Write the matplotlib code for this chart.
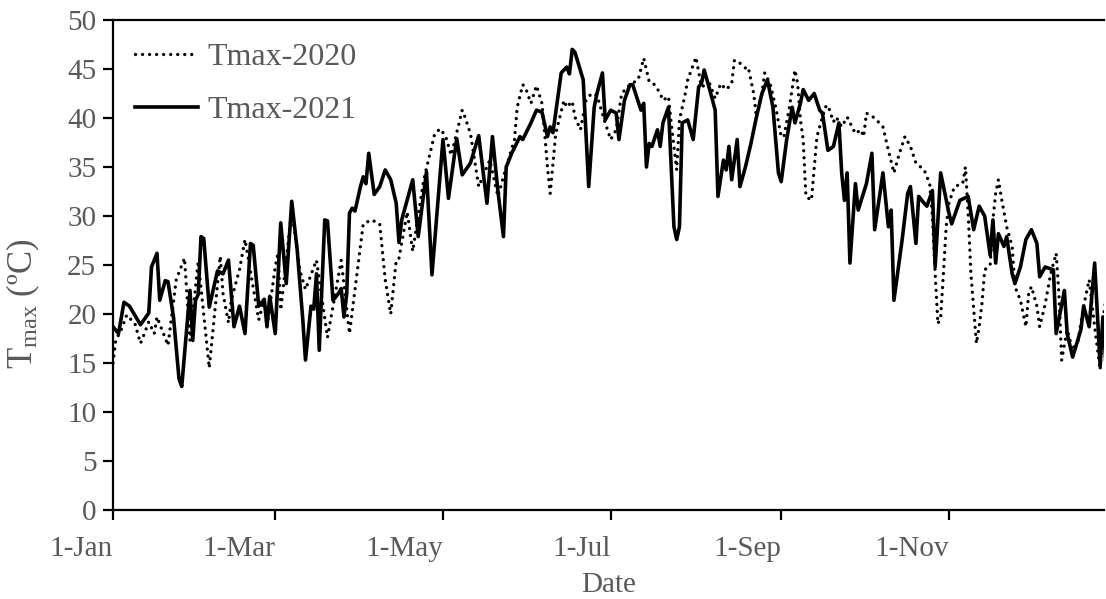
import matplotlib
matplotlib.use("Agg")
import matplotlib.pyplot as plt

# ---- data (day of year index, Tmax in degC) ----
days_2021 = [0, 2, 4, 6, 10, 13, 14, 16, 17, 19, 20, 22, 24, 25, 28, 29, 30, 31, 32, 33,
             35, 38, 40, 42, 44, 46, 48, 50, 51, 53, 55, 56, 57, 59, 61, 63, 65, 67, 69, 70,
             72, 73, 74, 75, 77, 78, 80, 82, 83, 84, 85, 86, 87, 88, 90, 91, 92, 93, 95, 97,
             99, 101, 103, 104, 105, 109, 111, 114, 116, 120, 122, 125, 127, 130, 133, 136, 138, 140, 142, 143,
             145, 148, 149, 152, 154, 156, 158, 159, 160, 163, 165, 166, 167, 168, 171, 173, 175, 176, 178, 179,
             181, 183, 184, 186, 188, 189, 192, 193, 194, 195, 196, 198, 199, 200, 202, 204, 205, 206, 207, 209,
             211, 213, 214, 215, 217, 219, 220, 222, 223, 224, 225, 227, 228, 230, 232, 234, 236, 238, 240, 242,
             243, 245, 247, 248, 250, 251, 253, 255, 257, 258, 260, 262, 264, 265, 266, 267, 268, 270, 271, 274,
             276, 277, 280, 282, 283, 284, 287, 289, 290, 292, 293, 295, 296, 298, 299, 301, 304, 305, 308, 311,
             313, 315, 317, 319, 320, 321, 322, 324, 325, 327, 328, 330, 332, 334, 336, 337, 339, 342, 343, 346,
             347, 349, 352, 353, 355, 357, 359, 360, 361]
tmax_2021 = [18.7, 18.0, 21.2, 20.8, 18.9, 20.1, 24.8, 26.2, 21.4, 23.4, 23.3, 19.7, 13.4, 12.6, 22.4, 17.3, 21.4, 22.0, 27.9, 27.7,
             20.7, 24.4, 24.1, 25.5, 18.7, 20.8, 18.0, 27.2, 27.0, 20.8, 21.5, 18.7, 21.8, 18.0, 29.3, 23.1, 31.5, 26.5, 19.5, 15.3,
             20.8, 20.5, 24.1, 16.3, 29.6, 29.5, 21.4, 22.1, 22.6, 19.7, 22.1, 30.3, 30.8, 30.5, 33.0, 34.0, 33.3, 36.4, 32.2, 33.0,
             34.7, 33.7, 31.3, 27.3, 29.6, 33.7, 27.9, 34.5, 24.0, 37.8, 31.8, 37.9, 34.2, 35.4, 38.2, 31.3, 38.1, 32.5, 27.9, 35.0,
             36.4, 38.1, 37.8, 39.5, 40.8, 40.6, 38.1, 39.1, 38.5, 44.6, 45.2, 44.5, 47.0, 46.7, 43.9, 33.0, 41.1, 42.5, 44.6, 39.8,
             40.8, 40.5, 37.8, 41.8, 43.4, 43.4, 40.8, 41.5, 35.0, 37.4, 37.1, 38.8, 37.1, 39.5, 41.1, 28.9, 27.6, 28.9, 39.5, 39.8,
             37.8, 43.2, 43.5, 44.9, 42.9, 40.8, 32.0, 35.7, 34.7, 37.1, 33.7, 37.8, 33.0, 35.0, 37.4, 40.1, 42.5, 43.9, 41.1, 34.4,
             33.5, 37.8, 41.1, 39.5, 41.5, 42.9, 41.8, 42.5, 40.8, 40.5, 36.7, 37.1, 39.5, 34.4, 31.6, 34.4, 25.2, 33.3, 30.6, 33.3,
             36.4, 28.6, 34.4, 28.9, 30.6, 21.4, 27.6, 32.3, 33.0, 27.2, 32.0, 31.3, 31.0, 32.6, 24.8, 34.4, 30.3, 29.2, 31.6, 32.0,
             28.6, 31.0, 30.0, 26.0, 29.6, 25.2, 28.2, 26.9, 27.9, 24.1, 23.1, 24.8, 27.6, 28.6, 27.2, 23.8, 24.8, 24.5, 18.0, 22.4,
             18.0, 15.6, 18.4, 20.8, 18.7, 25.2, 14.7, 19.7, 15.3]

days_2020 = [0, 1, 3, 5, 8, 10, 11, 13, 15, 16, 20, 23, 26, 28, 31, 35, 39, 40, 42, 43,
             45, 46, 48, 53, 55, 56, 59, 60, 61, 64, 65, 68, 70, 74, 78, 83, 86, 91, 94, 97,
             99, 101, 103, 104, 107, 109, 113, 117, 119, 121, 123, 127, 128, 130, 133, 137, 140, 143, 146, 147,
             149, 150, 152, 154, 156, 157, 158, 159, 161, 164, 165, 167, 168, 170, 172, 174, 176, 179, 181, 183,
             185, 188, 191, 193, 195, 197, 199, 200, 202, 203, 205, 206, 208, 209, 211, 212, 214, 217, 219, 221,
             223, 225, 226, 228, 230, 231, 233, 234, 236, 237, 239, 241, 243, 244, 246, 248, 249, 250, 251, 252,
             254, 256, 259, 260, 262, 263, 265, 267, 270, 272, 273, 274, 277, 280, 282, 284, 286, 288, 290, 292,
             295, 297, 298, 299, 300, 301, 302, 303, 304, 306, 309, 310, 311, 312, 314, 315, 316, 317, 319, 320,
             321, 322, 323, 325, 327, 328, 330, 332, 333, 334, 336, 337, 339, 341, 343, 344, 345, 347, 349, 351,
             353, 355, 357, 359, 360, 361]
tmax_2020 = [15.0, 17.3, 18.4, 19.9, 19.0, 17.0, 17.7, 19.2, 18.0, 19.7, 16.8, 23.5, 25.7, 17.3, 25.4, 14.5, 25.9, 22.1, 19.1, 21.4,
             23.5, 24.5, 27.6, 19.4, 21.5, 18.7, 24.8, 26.2, 20.4, 28.0, 30.6, 24.4, 22.5, 25.5, 17.6, 25.5, 18.0, 29.2, 29.6, 29.2,
             23.5, 20.0, 25.5, 25.7, 30.4, 26.4, 33.7, 38.4, 38.9, 38.1, 36.2, 40.8, 40.1, 38.4, 33.0, 35.7, 32.0, 35.0, 37.8, 41.1,
             43.4, 43.1, 41.5, 43.3, 41.5, 38.4, 35.0, 32.3, 38.4, 41.8, 41.1, 41.7, 40.1, 38.8, 41.8, 42.5, 42.3, 39.5, 37.8, 38.8,
             42.5, 43.4, 43.9, 46.1, 43.7, 43.4, 42.5, 41.8, 42.2, 39.5, 34.7, 39.8, 42.3, 43.9, 45.4, 46.2, 43.2, 43.5, 42.0, 43.5,
             42.9, 43.5, 45.9, 45.6, 45.1, 45.2, 42.5, 40.1, 42.5, 44.6, 43.5, 41.1, 38.1, 38.1, 41.1, 44.9, 43.5, 39.8, 37.8, 32.0,
             31.6, 38.1, 41.1, 41.3, 39.6, 40.1, 39.1, 40.1, 38.4, 38.8, 38.1, 40.5, 40.0, 39.1, 36.7, 34.4, 36.4, 38.1, 37.1, 35.4,
             34.7, 33.3, 30.0, 24.1, 19.0, 19.7, 24.1, 28.9, 31.3, 33.0, 33.3, 35.0, 30.3, 24.1, 17.0, 18.7, 21.0, 24.5, 25.0, 29.6,
             32.3, 33.7, 32.0, 28.9, 26.9, 22.8, 21.4, 18.7, 22.1, 22.8, 20.8, 18.7, 21.0, 24.1, 26.2, 22.1, 15.3, 18.4, 16.3, 17.3,
             20.8, 23.5, 18.7, 14.3, 19.4, 21.4]

tick_days = [0, 59, 120, 181, 243, 304]
tick_labels = ["1-Jan", "1-Mar", "1-May", "1-Jul", "1-Sep", "1-Nov"]
y_ticks = list(range(0, 51, 5))

# ---- style ----
GRAY = "#595959"
plt.rcParams["font.family"] = ["Liberation Serif", "DejaVu Serif"]
plt.rcParams["mathtext.fontset"] = "custom"
plt.rcParams["mathtext.rm"] = "Liberation Serif"
plt.rcParams["mathtext.it"] = "Liberation Serif:italic"

fig = plt.figure(figsize=(11.06, 5.99), dpi=100)
ax = fig.add_axes([113 / 1106, 89 / 599, 991 / 1106, 490 / 599])

ax.plot(days_2020, tmax_2020, color="black", lw=2.4,
        linestyle=(0, (0.01, 2.1)), dash_capstyle="round", label="Tmax-2020")
ax.plot(days_2021, tmax_2021, color="black", lw=2.6, solid_joinstyle="round",
        label="Tmax-2021")

ax.set_xlim(0, 360.4)
ax.set_ylim(0, 50)
ax.set_yticks(y_ticks)
ax.set_xticks(tick_days)
ax.set_xticklabels(tick_labels, ha="right")

ax.spines["right"].set_visible(False)
for s in ["left", "bottom", "top"]:
    ax.spines[s].set_color("black")
    ax.spines[s].set_linewidth(1.6)

ax.tick_params(axis="both", direction="out", color="black", width=1.6, length=7,
               labelcolor=GRAY, labelsize=21)
ax.tick_params(axis="y", pad=5)
ax.tick_params(axis="x", pad=12)

ax.set_xlabel("Date", color=GRAY, fontsize=21)
ax.xaxis.set_label_coords(0.5, -0.126)
ax.set_ylabel(r"T$_{\mathregular{max}}$ (ºC)", color=GRAY, fontsize=25)
ax.yaxis.set_label_coords(-0.072, 0.42)

leg = ax.legend(loc="upper left", bbox_to_anchor=(0.0, 1.0), frameon=False,
                fontsize=23, handlelength=1.95, handletextpad=0.3, labelspacing=0.75,
                borderaxespad=0.3)
for t in leg.get_texts():
    t.set_color(GRAY)

fig.savefig("out.png", dpi=100)
